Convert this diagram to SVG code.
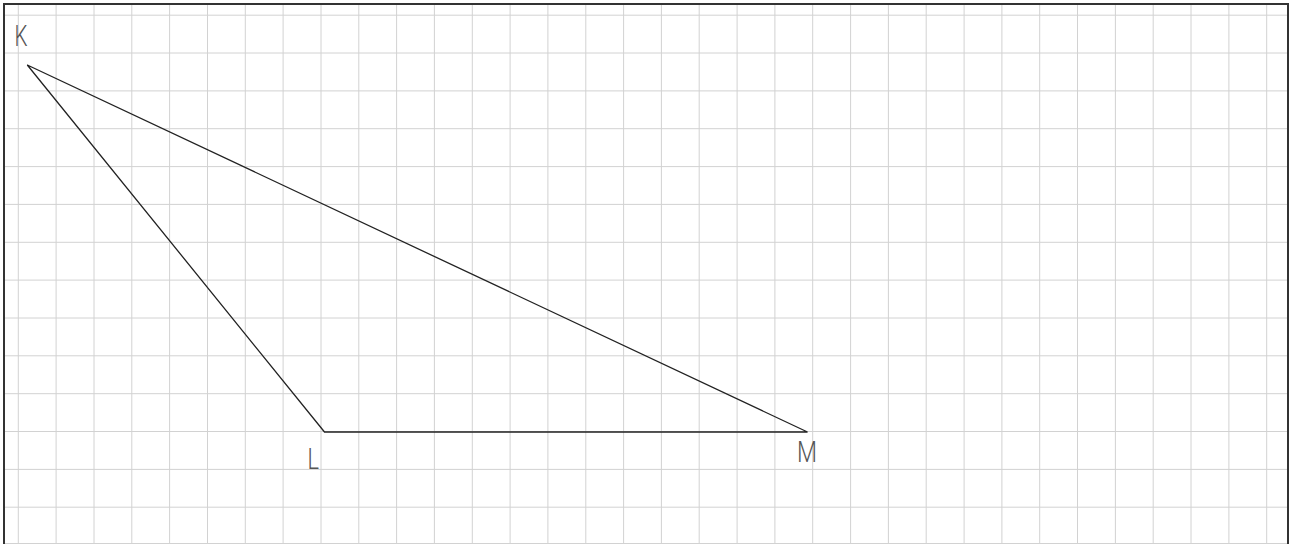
<svg xmlns="http://www.w3.org/2000/svg" width="1297" height="544" viewBox="0 0 1297 544">
<defs>
<style>
.g{stroke:#d2d2d2;stroke-width:1;fill:none}
.b{stroke:#333;stroke-width:2;fill:none}
.t{stroke:#222;stroke-width:1.3;fill:none;stroke-linejoin:miter}
.lbl{font-family:Roboto,"Liberation Sans",sans-serif;font-weight:300;font-size:29px;fill:#555}
</style>
</defs>
<rect x="0" y="0" width="1297" height="544" fill="#fff"/>
<g id="grid">
<path class="g" d="M18.3 4V544M56.1 4V544M94 4V544M131.8 4V544M169.6 4V544M207.5 4V544M245.3 4V544M283.1 4V544M321 4V544M358.8 4V544M396.6 4V544M434.4 4V544M472.3 4V544M510.1 4V544M547.9 4V544M585.8 4V544M623.6 4V544M661.4 4V544M699.2 4V544M737.1 4V544M774.9 4V544M812.7 4V544M850.6 4V544M888.4 4V544M926.2 4V544M964.1 4V544M1001.9 4V544M1039.7 4V544M1077.5 4V544M1115.4 4V544M1153.2 4V544M1191 4V544M1228.9 4V544M1266.7 4V544"/>
<path class="g" d="M4 15.2H1288M4 53H1288M4 90.9H1288M4 128.7H1288M4 166.6H1288M4 204.4H1288M4 242.3H1288M4 280.1H1288M4 318H1288M4 355.8H1288M4 393.7H1288M4 431.5H1288M4 469.4H1288M4 507.2H1288M4 543.5H1288"/>
</g>
<g id="border">
<path class="b" d="M4 544V4H1288V544"/>
</g>
<g id="connectors">
<path class="t" d="M27.3 65L324.5 432H807.5Z"/>
</g>
<g id="K"><text class="lbl" x="14.5" y="46" textLength="13" lengthAdjust="spacingAndGlyphs">K</text></g>
<g id="L"><text class="lbl" x="307.5" y="469" textLength="11.5" lengthAdjust="spacingAndGlyphs">L</text></g>
<g id="M"><text class="lbl" x="797" y="462.3" textLength="20" lengthAdjust="spacingAndGlyphs">M</text></g>
</svg>
